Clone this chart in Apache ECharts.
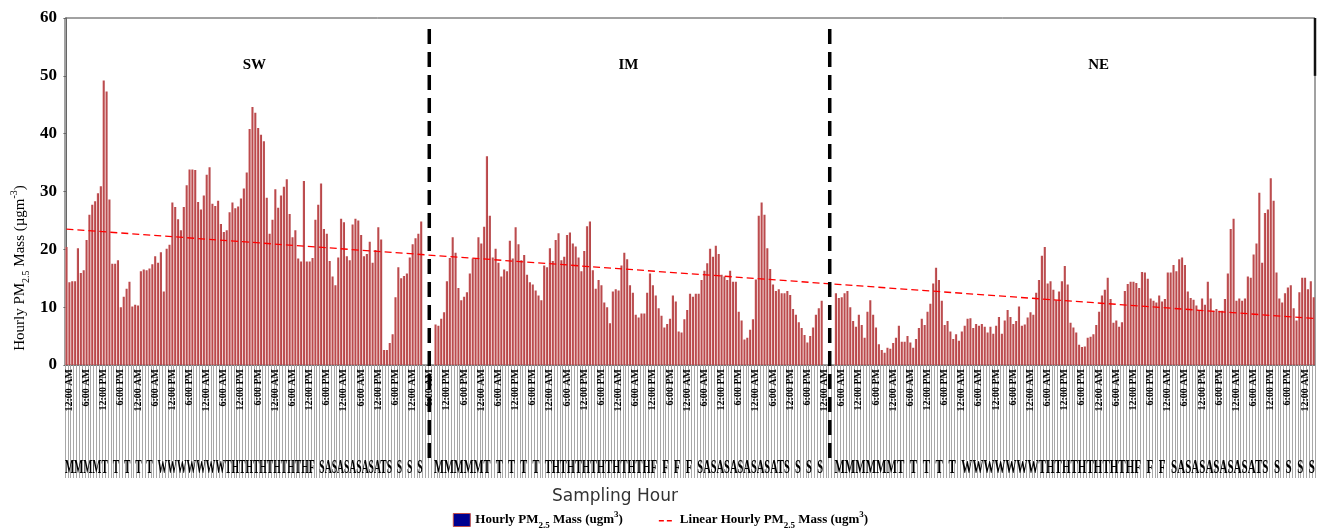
<!DOCTYPE html>
<html><head><meta charset="utf-8">
<script src="https://cdn.jsdelivr.net/npm/echarts@6/dist/echarts.min.js"></script>
<style>html,body{margin:0;padding:0;background:#fff}#c{width:1321px;height:532px}</style>
</head><body><div id="c"></div>
<script>
// ---- data ----
const swValues = [20.4,14.3,14.5,14.5,20.2,15.9,16.4,21.6,26.0,27.7,28.3,29.7,30.9,49.2,47.3,28.6,17.5,17.5,18.1,10.0,
11.8,13.2,14.4,10.1,10.4,10.3,16.2,16.5,16.4,16.7,17.4,18.8,17.7,19.5,12.7,20.1,20.8,28.1,27.3,25.2,
23.3,27.3,31.1,33.8,33.8,33.7,28.2,26.9,29.3,32.9,34.2,27.9,27.5,28.4,24.4,23.0,23.3,26.4,28.1,27.1,
27.4,28.8,30.5,33.3,40.8,44.6,43.6,41.0,39.8,38.7,28.9,22.7,25.1,30.4,27.2,29.3,30.8,32.1,26.1,22.1,
23.3,18.4,17.9,31.8,17.9,17.9,18.5,25.1,27.7,31.4,23.5,22.7,18.0,15.3,13.8,18.6,25.3,24.7,18.8,18.1,
24.3,25.3,25.0,22.5,18.8,19.2,21.3,17.7,19.9,23.8,21.7,2.6,2.6,3.8,5.3,11.7,16.9,15.0,15.4,15.8,
18.6,20.9,21.9,22.7,24.8];
const imValues = [7.0,6.8,8.0,9.1,14.5,18.5,22.1,19.4,13.3,11.2,11.8,12.6,15.8,18.4,18.4,22.1,21.0,23.9,36.1,
25.8,18.6,20.1,17.7,15.3,16.5,16.2,21.5,18.4,23.8,20.9,18.1,19.0,15.6,14.3,13.9,12.9,12.0,11.2,17.2,16.9,
20.2,18.0,21.6,22.8,18.1,18.7,22.5,22.9,21.0,20.5,18.6,16.2,19.7,24.0,24.8,16.4,13.2,14.7,13.8,10.8,
10.0,7.2,12.7,13.1,12.9,17.2,19.4,18.3,13.8,12.5,8.7,8.2,8.9,8.9,12.5,15.8,13.8,12.0,9.8,8.5,
6.5,7.1,8.0,12.0,11.0,5.8,5.6,7.9,9.5,12.3,11.8,12.3,12.3,14.7,16.3,17.6,20.1,18.7,20.6,19.2,
15.6,15.3,14.7,16.3,14.4,14.4,9.2,7.7,4.4,4.7,6.1,7.9,14.8,25.8,28.1,26.0,20.2,16.6,13.9,12.8,
13.1,12.4,12.4,12.8,12.1,9.7,8.7,7.4,6.4,5.2,3.9,5.0,6.5,8.7,9.8,11.1];
const neValues = [12.4,11.6,11.7,12.4,12.8,10.0,7.6,6.6,8.7,6.9,4.7,9.2,11.2,8.7,6.5,3.6,2.6,2.1,3.0,2.8,
3.8,4.7,6.8,4.0,4.0,5.0,3.9,3.0,4.5,6.4,8.0,6.9,9.2,10.6,14.1,16.8,14.7,11.1,6.9,7.6,
5.8,4.5,5.3,4.2,5.8,6.8,8.0,8.1,6.4,7.1,6.8,7.1,6.6,5.6,6.6,5.4,6.8,8.3,5.4,7.7,
9.5,8.3,7.1,7.6,10.1,6.8,7.0,8.2,9.1,8.7,12.5,14.7,18.9,20.4,14.1,14.5,13.0,11.2,12.7,14.5,
17.1,13.9,7.3,6.5,5.6,3.5,3.1,3.2,4.7,4.9,5.3,6.9,9.2,12.0,13.0,15.1,11.4,7.3,7.7,6.6,
7.4,12.8,14.0,14.4,14.4,14.2,13.3,16.1,16.0,14.9,11.5,11.1,10.8,12.0,11.0,11.4,16.0,16.0,17.3,16.2,
18.3,18.6,17.3,12.7,11.6,11.3,10.3,9.5,11.5,10.4,14.4,11.5,9.4,9.7,9.4,9.4,11.4,15.8,23.5,25.3,
11.1,11.5,11.1,11.5,15.3,15.1,19.1,21.0,29.8,17.7,26.3,26.9,32.3,28.4,16.0,11.5,10.8,12.4,13.4,13.8,
9.8,7.7,12.6,15.1,15.1,13.1,14.5,11.7];
const seasonNames = ['SW', 'IM', 'NE'];
const trendEnds = [23.5, 8.05];              // linear trend value at first and last hour
const hourLabels = ['12:00 AM', '6:00 AM', '12:00 PM', '6:00 PM'];
const dayRows = [
  'MMMMT  T  T  T  T  WWWWWWWTHTHTHTHTHTHF  SASASASASATS  S  S  S',
  'MMMMMT  T  T  T  T  THTHTHTHTHTHTHF  F  F  F  SASASASASASATS  S  S  S',
  'MMMMMMT  T  T  T  T  WWWWWWWTHTHTHTHTHTHF  F  F  SASASASASASATS  S  S  S  S'
];
const yTicks = [0, 10, 20, 30, 40, 50, 60];
const barName = 'Hourly PM2.5 Mass (ugm3)';
const lineName = 'Linear Hourly PM2.5 Mass (ugm3)';
const xTitle = 'Sampling Hour';

// ---- build category table ----
const GAP = 4;
const sections = [swValues, imValues, neValues];
const categories = [], values = [], sectionRanges = [];
sections.forEach((arr, s) => {
  if (s > 0) for (let g = 0; g < GAP; g++) { categories.push('gap' + s + '-' + g); values.push(null); }
  const start = values.length;
  arr.forEach((v, i) => { categories.push(seasonNames[s] + '-' + i); values.push(v); });
  sectionRanges.push([start, values.length - 1]);
});
const N = values.length;

const serif = 'Liberation Serif';
const chart = echarts.init(document.getElementById('c'), null, {renderer: 'canvas'});
const richSS = {
  sub: {fontSize: 9, verticalAlign: 'bottom', lineHeight: 20, fontFamily: serif, fontWeight: 'bold'},
  sup: {fontSize: 9, verticalAlign: 'top', lineHeight: 20, fontFamily: serif, fontWeight: 'bold'}
};
const dashIcon = 'path://M0,0h0.01v0.01h-0.01z M1,6.5h5v1.5h-5z M9,6.5h5v1.5h-5z M16.99,12.99h0.01v0.01h-0.01z';
const option = {
  animation: false,
  grid: {left: 65, right: 6, top: 18, bottom: 167, show: true, borderColor: '#444', borderWidth: 1},
  xAxis: [{
    type: 'category', data: categories, boundaryGap: true,
    axisLine: {lineStyle: {color: '#777'}},
    axisTick: {show: true, interval: 0, length: 113, lineStyle: {color: '#a8a8a8', width: 1}},
    axisLabel: {
      interval: (i) => i % 6 === 1, rotate: 90, margin: 4,
      fontFamily: serif, fontWeight: 'bold', fontSize: 10, color: '#000',
      formatter: (v, i) => hourLabels[Math.floor(i / 6) % hourLabels.length]
    }
  }, {
    type: 'value', min: -0.5, max: N - 0.5, show: false
  }],
  yAxis: {
    type: 'value', min: 0, max: 60, interval: 10,
    axisLine: {show: true, lineStyle: {color: '#666'}},
    axisTick: {show: true, length: 3, lineStyle: {color: '#666'}},
    splitLine: {show: false},
    axisLabel: {fontFamily: serif, fontWeight: 'bold', fontSize: 17, color: '#000', margin: 8,
      formatter: (v) => yTicks.includes(v) ? String(v) : ''}
  },
  legend: {
    bottom: -3, left: 'center', itemGap: 35, itemWidth: 17, itemHeight: 13,
    textStyle: {fontFamily: serif, fontWeight: 'bold', fontSize: 13, color: '#000', rich: richSS},
    formatter: (n) => n === barName ? 'Hourly PM{sub|2.5} Mass (ugm{sup|3})' : 'Linear Hourly PM{sub|2.5} Mass (ugm{sup|3})',
    data: [
      {name: barName, icon: 'rect', itemStyle: {color: '#000090', borderColor: '#c0504d', borderWidth: 1}},
      {name: lineName, icon: dashIcon, itemStyle: {color: '#ff0000', borderWidth: 0}}
    ]
  },
  series: [{
    name: barName, type: 'bar', data: values, barCategoryGap: '22%',
    itemStyle: {color: new echarts.graphic.LinearGradient(0, 0, 1, 0, [
      {offset: 0, color: '#dc8c8c'}, {offset: 0.35, color: '#bf4d50'}, {offset: 1, color: '#b24446'}])}
  }, {
    name: lineName, type: 'line', xAxisIndex: 1, symbol: 'none',
    data: [[0, trendEnds[0]], [N - 1, trendEnds[1]]],
    lineStyle: {color: '#ff0000', width: 1.3, type: [7, 4]}, itemStyle: {color: '#ff0000'}
  }]
};
chart.setOption(option);

// overlays positioned through the axes
const px = (i) => chart.convertToPixel({xAxisIndex: 0}, i);
const py = (v) => chart.convertToPixel({yAxisIndex: 0}, v);
const step = px(1) - px(0);
const graphics = [];
for (let s = 1; s < sections.length; s++) {
  const a = sectionRanges[s - 1][1], b = sectionRanges[s][0];
  const x = (px(a) + px(b)) / 2 + 1;
  graphics.push({type: 'line', silent: true, z: 100,
    shape: {x1: x, y1: 29, x2: x, y2: 459},
    style: {stroke: '#000', lineWidth: 3.5, lineDash: [15, 8]}});
}
// dark segment on the top of the right frame edge
const rightEdge = px(N - 1) + step / 2;
graphics.push({type: 'line', silent: true, z: 100,
  shape: {x1: rightEdge, y1: py(60), x2: rightEdge, y2: py(50)},
  style: {stroke: '#111', lineWidth: 2.5}});
const measure = document.createElement('canvas').getContext('2d');
const dayFont = 'bold 18px "Liberation Serif"';
measure.font = dayFont;
const labelFrac = [0.53, 0.5, 0.55];
sections.forEach((arr, s) => {
  const [a, b] = sectionRanges[s];
  const x = px(a) + (px(b) - px(a)) * labelFrac[s];
  graphics.push({type: 'text', x: x, y: 65, z: 100,
    style: {text: seasonNames[s], fontFamily: serif, fontWeight: 'bold', fontSize: 15, fill: '#000', align: 'center', verticalAlign: 'middle'}});
  const left = px(a) - step / 2, right = px(b) + step / 2;
  const w = measure.measureText(dayRows[s]).width;
  graphics.push({type: 'text', x: left, y: 468, z: 100, scaleX: (right - left) / w,
    style: {text: dayRows[s], font: dayFont, fill: '#000', align: 'left', verticalAlign: 'middle'}});
});
graphics.push({type: 'text', x: 615, y: 497, z: 100,
  style: {text: xTitle, fontFamily: 'DejaVu Sans', fontSize: 17, fill: '#333', align: 'center', verticalAlign: 'middle'}});
graphics.push({type: 'text', x: 20, y: 268, rotation: Math.PI / 2, z: 100,
  style: {text: 'Hourly PM{sub|2.5} Mass (µgm{sup|-3})', fontFamily: serif, fontSize: 15, fill: '#000',
    align: 'center', verticalAlign: 'middle',
    rich: {sub: {fontSize: 10, verticalAlign: 'bottom', lineHeight: 22, fontFamily: serif},
           sup: {fontSize: 10, verticalAlign: 'top', lineHeight: 22, fontFamily: serif}}}});
chart.setOption({graphic: graphics});
</script></body></html>
